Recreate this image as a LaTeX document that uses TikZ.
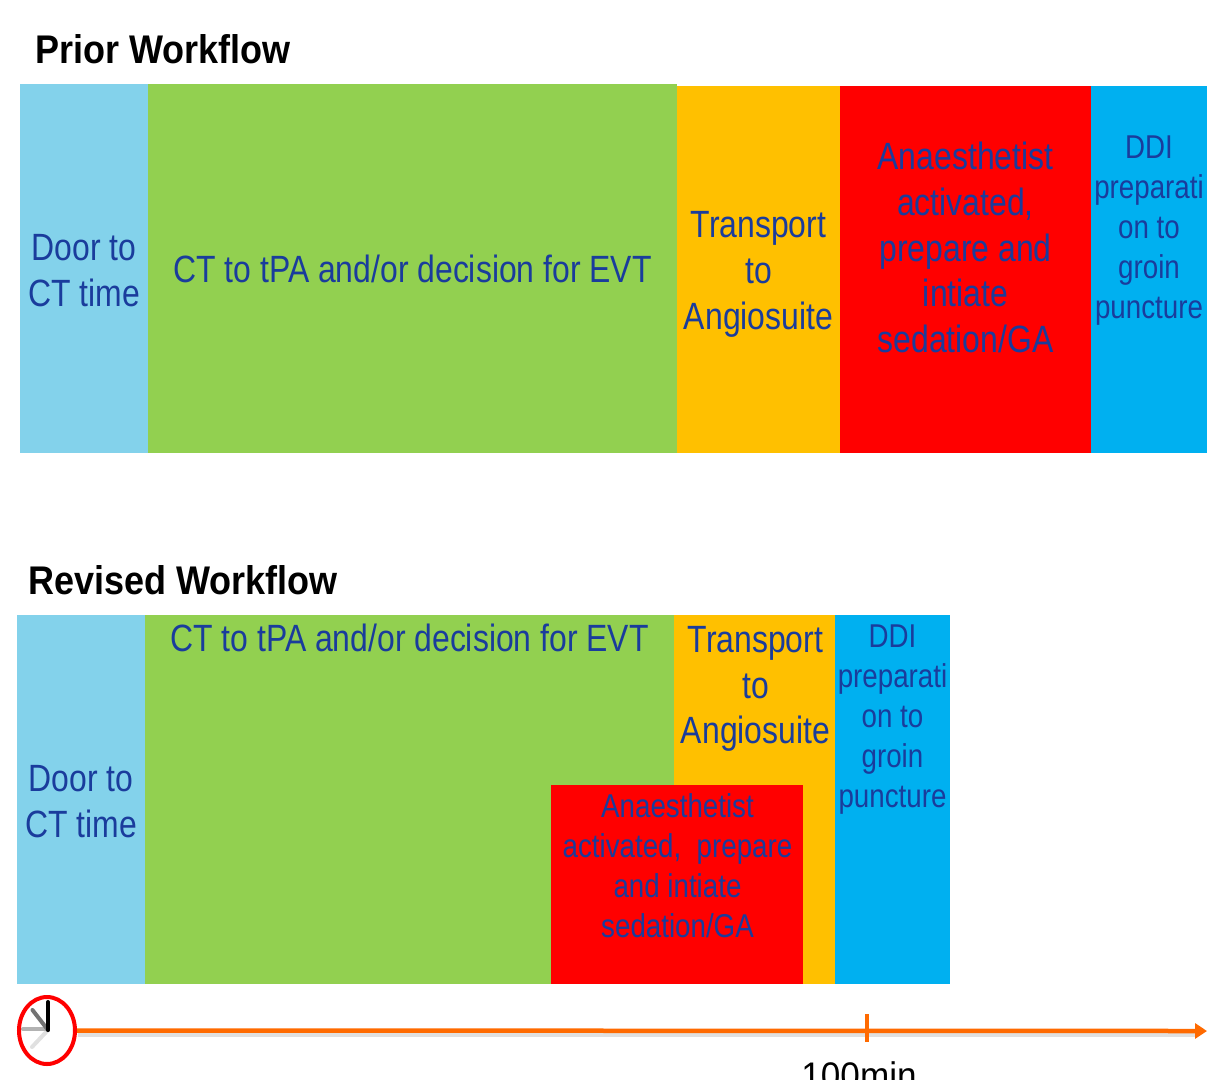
\documentclass[tikz,border=0pt]{standalone}
\usepackage{fontspec}
\usetikzlibrary{arrows.meta,shapes.geometric}
\setmainfont{Liberation Sans}
\definecolor{txtblue}{HTML}{1A3C9C}
\definecolor{cblue}{HTML}{83D2EB}
\definecolor{cgreen}{HTML}{92D050}
\definecolor{corange}{HTML}{FFC000}
\definecolor{cred}{HTML}{FF0000}
\definecolor{cdeep}{HTML}{00B0F0}
\definecolor{caxis}{HTML}{FF6A00}
\tikzset{x=1pt,y=-1pt,
 blockbox/.style={inner sep=0pt,outer sep=0pt,text=txtblue,align=center,xscale=.84},
 big/.style={font=\fontsize{38}{45.7}\selectfont},
 small/.style={font=\fontsize{33}{40}\selectfont},
 head/.style={inner sep=0pt,anchor=west,xscale=.9,font=\bfseries\fontsize{40}{46}\selectfont},
 hand/.style={line width=4pt,line cap=round},
}
\newcommand{\blk}[8]{\fill[#6] (#2,#3) rectangle (#4,#5); \node[blockbox,#7] (#1) at ({(#2+#4)/2},{(#3+#5)/2}) {#8};}
\begin{document}
\begin{tikzpicture}
\useasboundingbox (0,0) rectangle (1209,1079);
\node[head] (h1) at (35,49) {Prior Workflow};
\node[head] (h2) at (28,580) {Revised Workflow};
\blk{a1}{20}{84}{148}{453}{cblue}{big,yshift=-2pt}{Door to\\CT time}
\blk{a2}{148}{84}{677}{453}{cgreen}{big,yshift=-.5pt}{CT to tPA and/or decision for EVT}
\blk{a3}{677}{86}{840}{453}{corange}{big,yshift=-5pt}{Transport\\to\\Angiosuite}
\blk{a4}{840}{86}{1091}{453}{cred}{big,yshift=22pt}{Anaesthetist\\activated,\\prepare and\\intiate\\sedation/GA}
\blk{a5}{1091}{86}{1207}{453}{cdeep}{small,yshift=38.5pt}{DDI\\preparati\\on to\\groin\\puncture}
\blk{b1}{17}{615}{145}{984}{cblue}{big,yshift=-2pt}{Door to\\CT time}
\fill[cgreen] (145,615) rectangle (674,984);
\node[blockbox,big] (b2) at (409.5,638) {CT to tPA and/or decision for EVT};
\fill[corange] (674,615) rectangle (835,984);
\node[blockbox,big] (b3) at (755.5,689) {Transport\\to\\Angiosuite};
\fill[cdeep] (835,615) rectangle (950,984);
\node[blockbox,small] (b5) at (892.5,720) {DDI\\preparati\\on to\\groin\\puncture};
\fill[cred] (551,785) rectangle (803,984);
\node[blockbox,small] (b4) at (677.5,866) {Anaesthetist\\activated,\ \ prepare\\and intiate\\sedation/GA};
% clock
\draw[hand,black!12] (48,1030) -- (32,1047);
\draw[hand,black!30] (48,1029) -- (23,1029);
\draw[hand,black!55] (48,1030) -- (32.5,1010);
\draw[hand,black] (48,1030) -- (48,1002);
\node[ellipse,draw=cred,line width=4pt,minimum width=56pt,minimum height=67pt,inner sep=0pt] (clk) at (47,1030.5) {};
\coordinate (t1) at (1207,1031);
\coordinate (ta) at (866.5,1014);
\coordinate (tb) at (866.5,1042);
\coordinate (s0) at (78,1034.5);
\coordinate (s1) at (1196,1034.5);
\draw[black!12,line width=4pt] (s0) -- (s1);
\draw[caxis,line width=4.5pt,-{Triangle[length=12pt,width=15pt]}] (clk.east) -- (t1);
\draw[caxis,line width=4pt] (ta) -- (tb);
\node[inner sep=0pt,font=\fontsize{37}{40}\selectfont,anchor=base,xscale=.95] (lbl) at (859,1088) {100min};
\end{tikzpicture}
\end{document}
